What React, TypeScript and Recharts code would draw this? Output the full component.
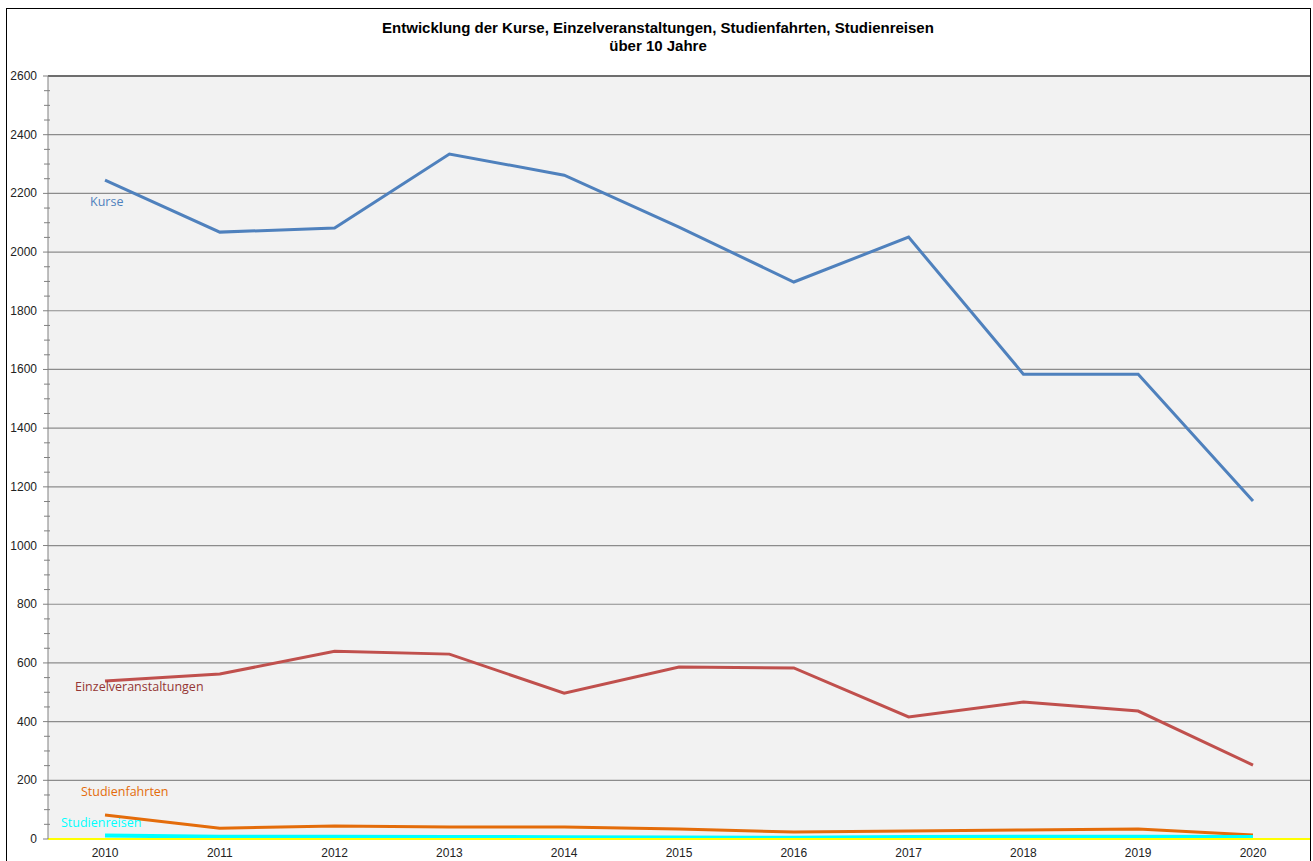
import { CartesianGrid, Line, LineChart, ReferenceLine, XAxis, YAxis } from 'recharts'

const years = ['2010', '2011', '2012', '2013', '2014', '2015', '2016', '2017', '2018', '2019', '2020']
const kurse = [2245, 2068, 2082, 2334, 2262, 2085, 1898, 2051, 1584, 1584, 1152]
const einzel = [538, 562, 640, 630, 497, 586, 583, 416, 467, 436, 252]
const fahrten = [82, 37, 44, 41, 41, 34, 24, 27, 31, 34, 14]
const reisen = [12, 8, 8, 7, 6, 5, 4, 7, 8, 8, 7]
const yTicks = Array.from({ length: 53 }, (_, i) => i * 50)
const gridValues = [200, 400, 600, 800, 1000, 1200, 1400, 1600, 1800, 2000, 2200, 2400]

const data = years.map((y, i) => ({
  year: y,
  kurse: kurse[i],
  einzel: einzel[i],
  fahrten: fahrten[i],
  reisen: reisen[i],
}))

const FONT = 'Liberation Sans, Arial, sans-serif'
const LABEL_FONT = 'Open Sans, sans-serif'

function seriesLabel(text: string, color: string, dx: number, dy: number) {
  return (p: { x?: number; y?: number; index?: number }) => {
    if (p.index !== 0) return <g />
    return (
      <text
        x={(p.x ?? 0) + dx}
        y={(p.y ?? 0) + dy}
        fill={color}
        fontSize={12.5}
        fontFamily={LABEL_FONT}
        dominantBaseline="central"
      >
        {text}
      </text>
    )
  }
}

function YTick({ y, payload }: { x?: number; y?: number; payload?: { value: number } }) {
  const v = payload?.value ?? 0
  const major = v % 200 === 0
  return (
    <g>
      <line x1={major ? 43 : 44} x2={major ? 48 : 50} y1={y} y2={y} stroke="#808080" />
      {major && (
        <text x={37} y={y} textAnchor="end" dominantBaseline="central" fontSize={12} fontFamily={FONT} fill="#222">
          {v}
        </text>
      )}
    </g>
  )
}

export default function App() {
  return (
    <div style={{ position: 'absolute', left: 0, top: 0, width: 1313, height: 861, background: '#fff', overflow: 'hidden' }}>
      <div style={{ position: 'absolute', left: 6, top: 8, width: 1303, height: 870, border: '1.5px solid #000' }} />
      <div
        style={{
          position: 'absolute',
          left: 0,
          top: 19,
          width: 1316,
          textAlign: 'center',
          fontFamily: FONT,
          fontWeight: 'bold',
          fontSize: 15,
          lineHeight: '18px',
          color: '#000',
        }}
      >
        Entwicklung der Kurse, Einzelveranstaltungen, Studienfahrten, Studienreisen
        <br />
        über 10 Jahre
      </div>
      <div style={{ position: 'absolute', left: 0, top: 0 }}>
        <LineChart width={1313} height={861} data={data} margin={{ top: 76, right: 3, left: 0, bottom: 0 }}>
          <CartesianGrid fill="#f2f2f2" horizontal={false} vertical={false} />
          {gridValues.map((g) => (
            <ReferenceLine key={g} y={g} stroke="#8c8c8c" strokeWidth={1.2} />
          ))}
          <ReferenceLine y={2600} stroke="#6e6e6e" strokeWidth={2} />
          <XAxis
            dataKey="year"
            height={22}
            padding={{ left: 57, right: 57 }}
            axisLine={{ stroke: '#ffff00', strokeWidth: 2 }}
            tickLine={false}
            tick={{ fontSize: 12, fontFamily: FONT, fill: '#222' }}
            tickMargin={3}
          />
          <YAxis
            width={48}
            domain={[0, 2600]}
            ticks={yTicks}
            interval={0}
            axisLine={{ stroke: '#808080' }}
            tickLine={false}
            tick={<YTick />}
          />
          <Line
            dataKey="kurse"
            stroke="#4f81bd"
            strokeWidth={3}
            dot={false}
            isAnimationActive={false}
            label={seriesLabel('Kurse', '#4f81bd', -15, 21)}
          />
          <Line
            dataKey="einzel"
            stroke="#c0504d"
            strokeWidth={3}
            dot={false}
            isAnimationActive={false}
            label={seriesLabel('Einzelveranstaltungen', '#953735', -30, 5)}
          />
          <Line
            dataKey="fahrten"
            stroke="#e46c0a"
            strokeWidth={3}
            dot={false}
            isAnimationActive={false}
            label={seriesLabel('Studienfahrten', '#e46c0a', -24, -23)}
          />
          <Line
            dataKey="reisen"
            stroke="#00ffff"
            strokeWidth={4}
            dot={false}
            isAnimationActive={false}
            label={seriesLabel('Studienreisen', '#00ffff', -44, -13)}
          />
        </LineChart>
      </div>
    </div>
  )
}
